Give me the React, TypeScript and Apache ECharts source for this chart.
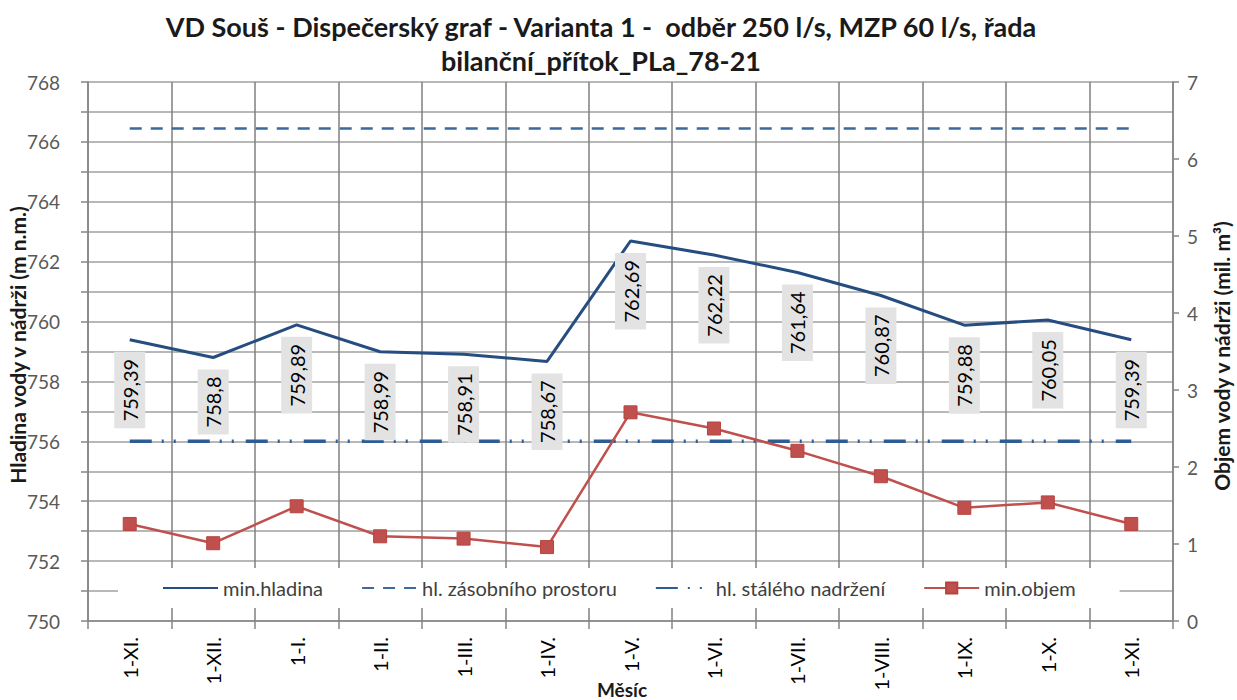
import React, { useEffect, useRef } from "react";
import * as echarts from "echarts";

const categories = ["1-XI.", "1-XII.", "1-I.", "1-II.", "1-III.", "1-IV.", "1-V.", "1-VI.", "1-VII.", "1-VIII.", "1-IX.", "1-X.", "1-XI."];
const minHladina = [759.39, 758.8, 759.89, 758.99, 758.91, 758.67, 762.69, 762.22, 761.64, 760.87, 759.88, 760.05, 759.39];
const hlZasobnihoProstoru = [766.45, 766.45, 766.45, 766.45, 766.45, 766.45, 766.45, 766.45, 766.45, 766.45, 766.45, 766.45, 766.45];
const hlStalehoNadrzeni = [756.0, 756.0, 756.0, 756.0, 756.0, 756.0, 756.0, 756.0, 756.0, 756.0, 756.0, 756.0, 756.0];
const minObjem = [1.26, 1.01, 1.49, 1.1, 1.07, 0.96, 2.71, 2.5, 2.21, 1.88, 1.47, 1.54, 1.26];

const FONT = "Lato, 'Open Sans', sans-serif";
const titleText = "VD Souš - Dispečerský graf - Varianta 1 -  odběr 250 l/s, MZP 60 l/s, řada\nbilanční_přítok_PLa_78-21";
const xName = "Měsíc";
const yLeftName = "Hladina vody v nádrži (m n.m.)";
const yRightName = "Objem vody v nádrži (mil. m³)";

export default function App() {
  const ref = useRef<HTMLDivElement>(null);
  useEffect(() => {
    if (!ref.current) return;
    const chart = echarts.init(ref.current, undefined, { renderer: "svg" });
    chart.setOption({
      animation: false,
      backgroundColor: "#ffffff",
      textStyle: { fontFamily: FONT },
      graphic: [
        {
          type: "text",
          x: 601,
          y: 9,
          z: 10,
          style: {
            text: titleText,
            font: `bold 27px ${FONT}`,
            fill: "#1a1a1a",
            textAlign: "center",
            lineHeight: 34,
          },
        },
        {
          type: "text",
          x: 622,
          y: 689,
          z: 10,
          style: {
            text: xName,
            font: `bold 19px ${FONT}`,
            fill: "#1a1a1a",
            textAlign: "center",
            textVerticalAlign: "middle",
          },
        },
        {
          type: "text",
          x: 17,
          y: 345,
          rotation: Math.PI / 2,
          z: 10,
          style: {
            text: yLeftName,
            font: `bold 21px ${FONT}`,
            fill: "#1a1a1a",
            textAlign: "center",
            textVerticalAlign: "middle",
          },
        },
        {
          type: "text",
          x: 1221,
          y: 356,
          rotation: Math.PI / 2,
          z: 10,
          style: {
            text: yRightName,
            font: `bold 21px ${FONT}`,
            fill: "#1a1a1a",
            textAlign: "center",
            textVerticalAlign: "middle",
          },
        },
      ],
      grid: { left: 88, right: 64, top: 82, bottom: 79, containLabel: false, outerBoundsMode: "none" },
      legend: {
        left: 118,
        top: 568,
        padding: [10, 44, 10, 44],
        backgroundColor: "#ffffff",
        itemWidth: 55,
        itemHeight: 14,
        itemGap: 38,
        textStyle: { fontSize: 20, color: "#404040", fontFamily: FONT },
        data: ["min.hladina", "hl. zásobního prostoru", "hl. stálého nadržení", "min.objem"],
      },
      xAxis: {
        type: "category",
        data: categories,
        boundaryGap: true,
        axisLine: { show: true, lineStyle: { color: "#868686", width: 1.5 } },
        axisTick: { show: true, length: 8, interval: 0, lineStyle: { color: "#868686", width: 1.5 } },
        axisLabel: { rotate: 90, interval: 0, fontSize: 20, color: "#000", margin: 16 },
        splitLine: { show: true, interval: 0, lineStyle: { color: "#7f7f7f", width: 1.5 } },
      },
      yAxis: [
        {
          type: "value",
          min: 750,
          max: 768,
          interval: 1,
          axisLine: { show: true, lineStyle: { color: "#868686", width: 1.5 } },
          axisTick: { show: true, length: 7, lineStyle: { color: "#868686", width: 1.5 } },
          axisLabel: {
            fontSize: 19,
            color: "#595959",
            margin: 28,
            formatter: (v: number) => (Math.round(v) % 2 === 0 ? String(v) : ""),
          },
          splitLine: { show: true, lineStyle: { color: "#a0a0a0", width: 1.5 } },
        },
        {
          type: "value",
          min: 0,
          max: 7,
          interval: 1,
          position: "right",
          axisLine: { show: true, lineStyle: { color: "#868686", width: 1.5 } },
          axisTick: { show: true, length: 6, lineStyle: { color: "#868686", width: 1.5 } },
          axisLabel: { fontSize: 19, color: "#595959", margin: 14 },
          splitLine: { show: false },
        },
      ],
      series: [
        {
          name: "min.hladina",
          type: "line",
          yAxisIndex: 0,
          data: minHladina,
          symbol: "circle",
          symbolSize: 2,
          itemStyle: { color: "rgba(0,0,0,0)" },
          lineStyle: { color: "#264d80", width: 3 },
          z: 3,
          label: {
            show: true,
            position: "bottom",
            distance: 11,
            rotate: 90,
            align: "right",
            verticalAlign: "middle",
            fontSize: 20,
            lineHeight: 21,
            color: "#000",
            backgroundColor: "#e3e3e3",
            padding: [5, 7, 5, 7],
            formatter: (p: any) => String(p.value).replace(".", ","),
          },
        },
        {
          name: "hl. zásobního prostoru",
          type: "line",
          yAxisIndex: 0,
          data: hlZasobnihoProstoru,
          symbol: "circle",
          showSymbol: false,
          lineStyle: { color: "#3d6a9c", width: 2.5, type: [12, 9] },
          itemStyle: { color: "rgba(0,0,0,0)" },
          z: 2,
        },
        {
          name: "hl. stálého nadržení",
          type: "line",
          yAxisIndex: 0,
          data: hlStalehoNadrzeni,
          symbol: "circle",
          showSymbol: false,
          lineStyle: { color: "#2e5d96", width: 3.5, type: [22, 10, 2, 10, 2, 12] },
          itemStyle: { color: "rgba(0,0,0,0)" },
          z: 2,
        },
        {
          name: "min.objem",
          type: "line",
          yAxisIndex: 1,
          data: minObjem,
          symbol: "rect",
          symbolSize: 13,
          itemStyle: { color: "#c0504d", borderColor: "#b8433f", borderWidth: 1 },
          lineStyle: { color: "#c0504d", width: 2.5 },
          z: 3,
        },
      ],
    });
    return () => chart.dispose();
  }, []);
  return <div ref={ref} style={{ position: "absolute", left: 0, top: 0, width: 1237, height: 700 }} />;
}
